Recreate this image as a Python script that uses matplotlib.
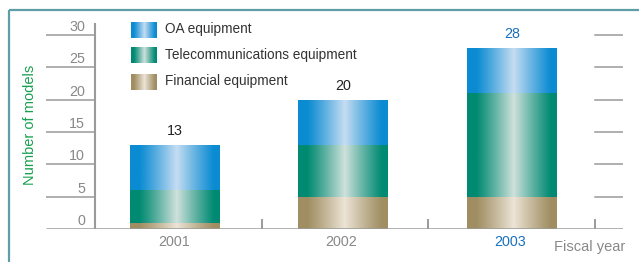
import numpy as np
import matplotlib
matplotlib.use("Agg")
import matplotlib.pyplot as plt
from matplotlib.colors import to_rgb

plt.rcParams['font.family'] = ['Liberation Sans', 'DejaVu Sans']

years = ["2001", "2002", "2003"]
financial = [1, 5, 5]
telecom = [5, 8, 16]
oa = [7, 7, 7]
totals = [13, 20, 28]
series_names = ["OA equipment", "Telecommunications equipment", "Financial equipment"]

# dark edge colour, light centre colour
grads = {
    "oa": ("#0a8bd2", "#c6ddf2"),
    "tel": ("#008a72", "#cfe1dc"),
    "fin": ("#a08e62", "#ece4d6"),
}

def gradient_img(key, n=200):
    dark = np.array(to_rgb(grads[key][0]))
    light = np.array(to_rgb(grads[key][1]))
    t = np.linspace(0, 1, n)
    w = np.clip(1 - np.abs(t - 0.52) / 0.42, 0, 1) ** 1.1
    return (dark[None, :] * (1 - w[:, None]) + light[None, :] * w[:, None])[None, :, :]

W, H = 639, 262
fig = plt.figure(figsize=(W / 100, H / 100), dpi=100)

# overlay in pixel coordinates
ov = fig.add_axes([0, 0, 1, 1])
ov.set_xlim(0, W)
ov.set_ylim(H, 0)
ov.axis("off")

frame_c = "#5f9ea6"
ov.plot([9, 9], [10, H + 5], color=frame_c, lw=1.6, solid_capstyle="butt")
ov.plot([9, W + 5], [10, 10], color=frame_c, lw=1.6, solid_capstyle="butt")

# main axes: y from px 229 (0) up to px 23
y0px, y1px = 229, 23
ppu = (229 - 35) / 30.0
ytop = (y0px - y1px) / ppu
x0px, x1px = 46, 623
step = 168.75
cx0 = 174.5
def px2x(p):
    return (p - cx0) / step

ax = fig.add_axes([x0px / W, (H - y0px) / H, (x1px - x0px) / W, (y0px - y1px) / H])
ax.patch.set_alpha(0)
for s in ax.spines.values():
    s.set_visible(False)
ax.set_xticks([])
ax.set_yticks([])
xl = (px2x(x0px), px2x(x1px))
yaxis_x = px2x(95)
right_x = px2x(595)

x = np.arange(len(years))
bw = 90 / step
axc = "#9a9a9a"
stacks = [("fin", financial), ("tel", telecom), ("oa", oa)]
bottom = np.zeros(len(years))
for key, vals in stacks:
    bars = ax.bar(x, vals, bw, bottom=bottom, color="none", edgecolor="none")
    for b in bars:
        bx, by = b.get_x(), b.get_y()
        im = ax.imshow(gradient_img(key), extent=(bx, bx + b.get_width(), by, by + b.get_height()),
                       aspect="auto", interpolation="bilinear", zorder=2)
        im.set_clip_path(b)
    bottom += np.array(vals)

# axis lines
ax.plot([yaxis_x, yaxis_x], [0, ytop], color=axc, lw=1.5, zorder=3, solid_capstyle="butt")
ax.plot(xl, [0, 0], color=axc, lw=1.8, zorder=3, solid_capstyle="butt")
for v in range(5, 31, 5):
    ax.plot([xl[0], yaxis_x], [v, v], color=axc, lw=1.1, zorder=3)
    ax.plot([right_x, xl[1]], [v, v], color=axc, lw=1.1, zorder=3)
for p in [262, 428, 595]:
    ax.plot([px2x(p), px2x(p)], [0, 1.4], color=axc, lw=1.4, zorder=3)

lab_c = "#888888"
for v in range(0, 31, 5):
    ax.text(px2x(85), v + 1.25, str(v), ha="right", va="center", fontsize=10.3, color=lab_c)

year_px = [174, 341, 510.5]
for i, yr in enumerate(years):
    c = "#1a70c0" if i == 2 else lab_c
    ov.text(year_px[i], 242, yr, ha="center", va="center", fontsize=10.3, color=c)
    tc = "#1a70c0" if i == 2 else "#222222"
    ax.text(i, totals[i] + 2.1, str(totals[i]), ha="center", va="center", fontsize=10.3, color=tc)

ax.set_xlim(*xl)
ax.set_ylim(0, ytop)

ov.text(590, 247, "Fiscal year", ha="center", va="center", fontsize=10.5, color=lab_c)
ov.text(30, 125, "Number of models", ha="center", va="center", rotation=90, fontsize=10.5, color="#19a050")

# legend
leg_keys = ["oa", "tel", "fin"]
leg_y = [30, 55.5, 82]
for key, name, ly in zip(leg_keys, series_names, leg_y):
    ov.imshow(gradient_img(key), extent=(131, 157, ly + 8, ly - 8), aspect="auto", interpolation="bilinear")
    ov.text(165, ly - 1, name, ha="left", va="center", fontsize=9.8, color="#333333")
ov.set_xlim(0, W)
ov.set_ylim(H, 0)

fig.savefig("out.png", dpi=100)
